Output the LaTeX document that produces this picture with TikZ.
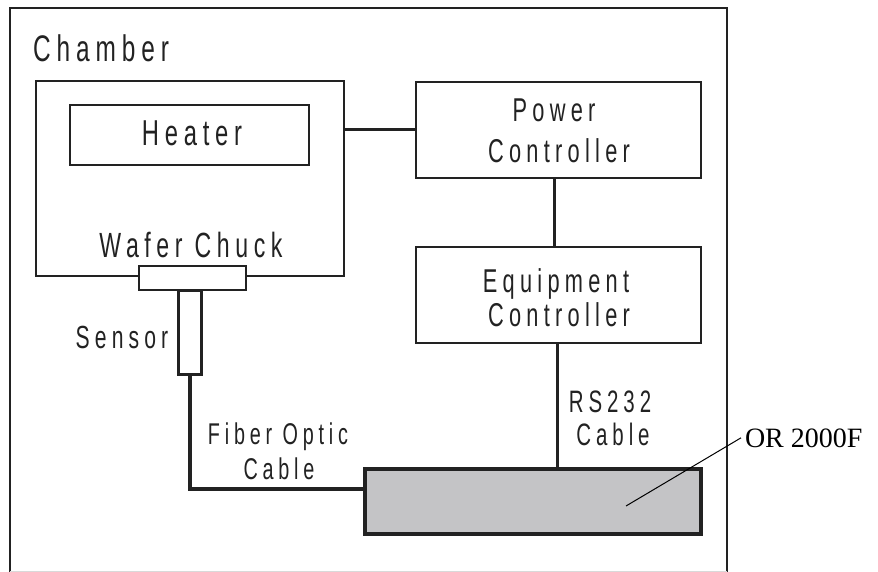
\documentclass[tikz,border=0pt]{standalone}
\usepackage{fontspec}
\newfontfamily\narrowsans[FakeStretch=0.66,LetterSpace=16]{Liberation Sans}
\newfontfamily\serifor{Liberation Serif}
\newcommand\lsz[1]{\fontsize{#1}{#1}\selectfont}
\definecolor{ink}{HTML}{222222}
\definecolor{boxgray}{HTML}{C4C4C6}
\tikzset{
  thinbox/.style={draw=ink, line width=2pt, fill=white, inner sep=0, outer sep=0},
  conn/.style={draw=ink, line width=3pt},
  cable/.style={draw=ink, line width=3.5pt},
  lbl/.style={anchor=base, inner sep=0, outer sep=0, text=ink},
}
\begin{document}
\begin{tikzpicture}[x=1pt,y=-1pt]
\useasboundingbox (0,0) rectangle (878,572);
% chamber
\draw[ink, line width=2pt] (10,572) -- (10,8) -- (727,8) -- (727,572);
\draw[gray!30, line width=1pt] (10,571) -- (727,571);
\node[lbl, font=\narrowsans\lsz{37}] (chamberlbl) at (101,62) {Chamber};
% wafer chuck body and heater
\node[thinbox, minimum width=308pt, minimum height=195pt] (chuckbody) at (190,178.5) {};
\node[thinbox, minimum width=239pt, minimum height=60pt] (heater) at (189.5,135) {};
\node[lbl, font=\narrowsans\lsz{36}] (heaterlbl) at (192,146) {Heater};
\node[lbl, font=\narrowsans\lsz{35}] (chucklbl) at (191,258) {Wafer Chuck};
% sensor tube and chuck plate
\node[draw=ink, line width=3pt, fill=white, inner sep=0, outer sep=0, minimum width=23pt, minimum height=84.5pt] (tube) at (190,332.25) {};
\node[thinbox, minimum width=107pt, minimum height=24pt] (plate) at (192.5,278) {};
\node[lbl, font=\narrowsans\lsz{32}] (sensorlbl) at (122,348) {Sensor};
% OR 2000F box
\node[draw=ink, line width=4pt, fill=boxgray, inner sep=0, outer sep=0, minimum width=336pt, minimum height=65pt] (orbox) at (533,501.5) {};
% fiber optic cable
\coordinate (fbend) at (190,489);
\draw[cable] (tube.south) -- (fbend) -- (fbend -| orbox.west);
\node[lbl, font=\narrowsans\lsz{30}] (fiberlbl1) at (278,444) {Fiber Optic};
\node[lbl, font=\narrowsans\lsz{30}] (fiberlbl2) at (279,479) {Cable};
% controllers
\node[thinbox, minimum width=285pt, minimum height=96pt] (power) at (558.5,130) {};
\node[lbl, font=\narrowsans\lsz{33}] (powerlbl1) at (554,122) {Power};
\node[lbl, font=\narrowsans\lsz{33}] (powerlbl2) at (559,163) {Controller};
\node[thinbox, minimum width=285pt, minimum height=96pt] (equip) at (558.5,295) {};
\node[lbl, font=\narrowsans\lsz{33}] (equiplbl1) at (556,292) {Equipment};
\node[lbl, font=\narrowsans\lsz{33}] (equiplbl2) at (559,326) {Controller};
% connectors
\draw[conn] (chuckbody.east |- power.west) -- (power.west);
\draw[conn] ([xshift=-4.5pt]power.south) -- ([xshift=-4.5pt]equip.north);
\draw[conn] ([xshift=-1.5pt]equip.south) -- ([xshift=-1.5pt]equip.south |- orbox.north);
\node[lbl, font=\narrowsans\lsz{31}] (rslbl1) at (610,412) {RS232};
\node[lbl, font=\narrowsans\lsz{31}] (rslbl2) at (613,445) {Cable};
% leader
\node[anchor=base west, inner sep=0, outer sep=0, font=\serifor\lsz{28}, text=black] (orlbl) at (745,447) {OR 2000F};
\coordinate (leadend) at (626,506);
\draw[black, line width=1pt] (leadend) -- ([xshift=-4pt]orlbl.west);
\end{tikzpicture}
\end{document}
